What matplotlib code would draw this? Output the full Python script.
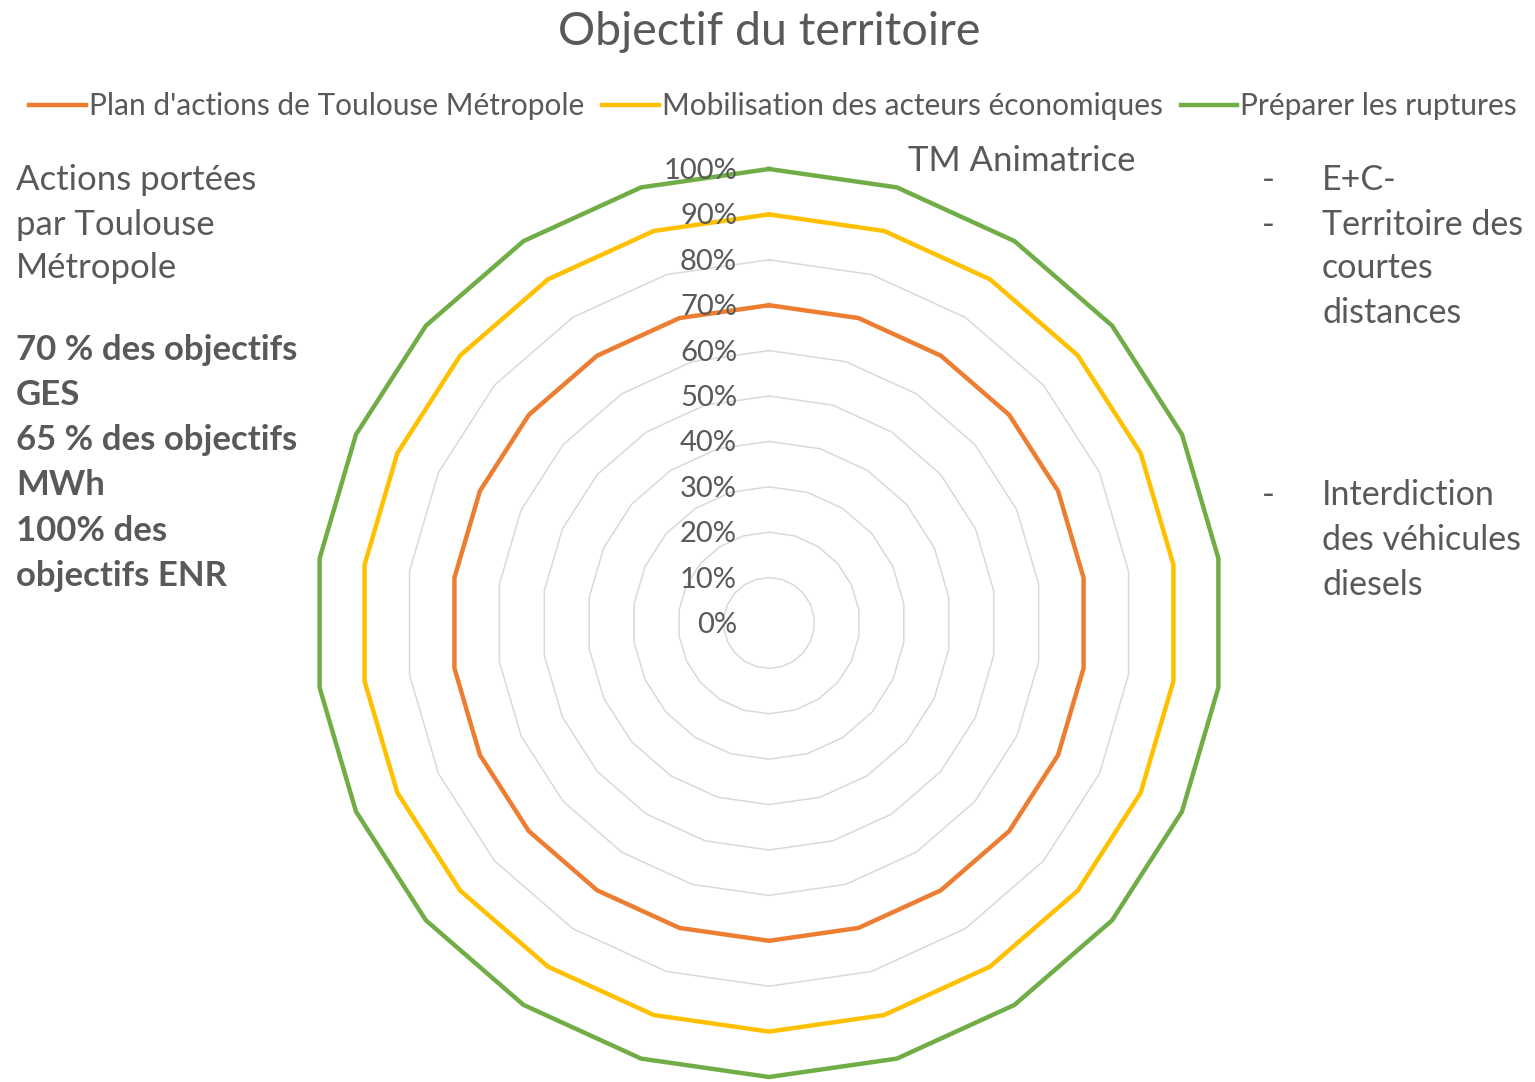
import numpy as np
import matplotlib
matplotlib.use("Agg")
import matplotlib.pyplot as plt
from matplotlib.lines import Line2D

plt.rcParams['font.family'] = ['Lato', 'DejaVu Sans']

# data (22 axes, values in %)
series_names = ["Plan d'actions de Toulouse Métropole",
                "Mobilisation des acteurs économiques",
                "Préparer les ruptures"]
plan = [70, 70, 70, 70, 70, 70, 70, 70, 70, 70, 70,
        70, 70, 70, 70, 70, 70, 70, 70, 70, 70, 70]
mobilisation = [90, 90, 90, 90, 90, 90, 90, 90, 90, 90, 90,
                90, 90, 90, 90, 90, 90, 90, 90, 90, 90, 90]
ruptures = [100, 100, 100, 100, 100, 100, 100, 100, 100, 100, 100,
            100, 100, 100, 100, 100, 100, 100, 100, 100, 100, 100]
grid_levels = [0, 10, 20, 30, 40, 50, 60, 70, 80, 90, 100]
grid_labels = ["0%", "10%", "20%", "30%", "40%", "50%", "60%", "70%", "80%", "90%", "100%"]
colors = ["#ED7D31", "#FFC000", "#70AD47"]
txt = "#595959"

W, H = 1535, 1082
fig = plt.figure(figsize=(W / 100, H / 100), dpi=100)

# polar axes placed so the centre is at (769, 623) px, radius 454 px
cx, cy, R = 769, 623, 454
ax = fig.add_axes([(cx - R) / W, (H - cy - R) / H, 2 * R / W, 2 * R / H], projection='polar')
ax.set_theta_zero_location('N')
ax.set_theta_direction(-1)
ax.set_ylim(0, 100)
ax.grid(False)
ax.set_xticks([])
ax.set_yticks([])
ax.spines['polar'].set_visible(False)
ax.patch.set_alpha(0)

n = len(plan)
theta = np.linspace(0, 2 * np.pi, n, endpoint=False)
theta_c = np.append(theta, theta[0])

# polygonal gridlines
for lv in grid_levels[1:]:
    ax.plot(theta_c, [lv] * (n + 1), color="#D9D9D9", lw=1.1, zorder=1, clip_on=False)

for vals, c in zip([plan, mobilisation, ruptures], colors):
    ax.plot(theta_c, vals + vals[:1], color=c, lw=3.2, zorder=3, clip_on=False,
            solid_joinstyle='round')

for lv, lb in zip(grid_levels, grid_labels):
    ax.annotate(lb, xy=(0, lv), xytext=(-32, -2), textcoords='offset pixels',
                ha='right', va='center', fontsize=21, color=txt, zorder=4)

def fx(x):
    return x / W

def fy(y):
    return 1 - y / H

fig.text(fx(769), fy(32), "Objectif du territoire", ha='center', va='center',
         fontsize=33.5, color=txt)

handles = [Line2D([], [], color=c, lw=3.2) for c in colors]
fig.legend(handles, series_names, loc='center', bbox_to_anchor=(fx(773), fy(106)),
           ncol=3, frameon=False, fontsize=21.5, labelcolor=txt,
           handlelength=1.9, handletextpad=0.1, columnspacing=0.6)

fig.text(fx(908), fy(161), "TM Animatrice", ha='left', va='center', fontsize=25, color=txt)

left_lines = [("Actions portées", 180, 'normal'), ("par Toulouse", 225, 'normal'),
              ("Métropole", 268, 'normal'),
              ("70 % des objectifs", 350, 'bold'), ("GES", 395, 'bold'),
              ("65 % des objectifs", 440, 'bold'), ("MWh", 485, 'bold'),
              ("100% des", 531, 'bold'), ("objectifs ENR", 576, 'bold')]
for s, y, w in left_lines:
    fig.text(fx(16), fy(y), s, ha='left', va='center', fontsize=25, color=txt, fontweight=w)

right_lines = [("E+C-", 180, True), ("Territoire des", 225, True), ("courtes", 268, False),
               ("distances", 313, False),
               ("Interdiction", 495, True), ("des véhicules", 540, False), ("diesels", 585, False)]
for s, y, dash in right_lines:
    if dash:
        fig.text(fx(1262), fy(y), "-", ha='left', va='center', fontsize=25, color=txt)
    fig.text(fx(1322), fy(y), s, ha='left', va='center', fontsize=24.5, color=txt)

fig.savefig("out.png", dpi=100, facecolor='white')
